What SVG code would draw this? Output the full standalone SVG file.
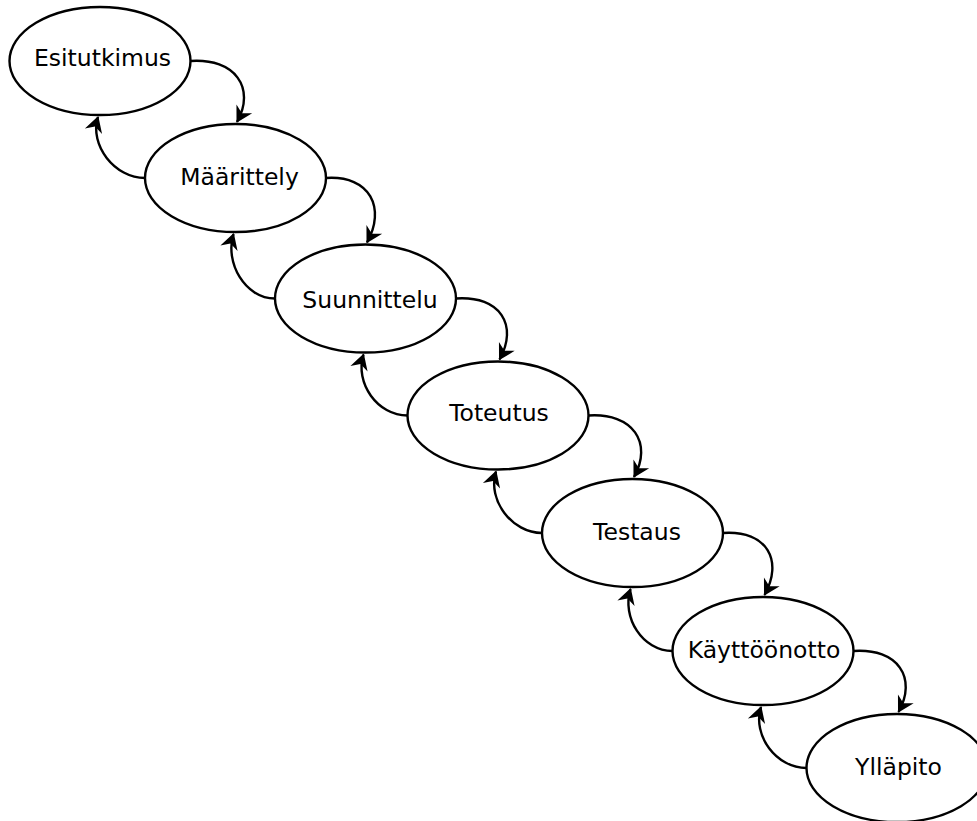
<svg xmlns="http://www.w3.org/2000/svg" width="977" height="821" viewBox="0 0 977 821">
  <style>
    .node ellipse { fill: #ffffff; stroke: #000000; stroke-width: 2.4; }
    .node text { font-family: "DejaVu Sans", Verdana, sans-serif; font-size: 23.5px; fill: #000000; text-anchor: middle; }
    .edge { fill: none; stroke: #000000; stroke-width: 2.4; marker-end: url(#arrow); }
  </style>
  <defs>
    <marker id="arrow" markerUnits="userSpaceOnUse" viewBox="-18 -11 22 22" refX="0" refY="0" markerWidth="22" markerHeight="22" orient="auto" overflow="visible">
      <path d="M1,0 L-15,-9 L-10,0 L-15,9 Z" fill="#000000"/>
    </marker>
  </defs>

  <rect x="0" y="0" width="977" height="821" fill="#ffffff"/>

  <g id="esitutkimus" class="node">
    <ellipse cx="100" cy="61" rx="90.5" ry="54"/>
    <text x="102.5" y="66">Esitutkimus</text>
  </g>
  <g id="maarittely" class="node">
    <ellipse cx="235.5" cy="178" rx="90.5" ry="54"/>
    <text x="239.5" y="185">Määrittely</text>
  </g>
  <g id="suunnittelu" class="node">
    <ellipse cx="365.5" cy="298.5" rx="90.5" ry="54"/>
    <text x="370" y="308">Suunnittelu</text>
  </g>
  <g id="toteutus" class="node">
    <ellipse cx="498" cy="415.5" rx="90.5" ry="54"/>
    <text x="499" y="421">Toteutus</text>
  </g>
  <g id="testaus" class="node">
    <ellipse cx="632.5" cy="533" rx="90.5" ry="54"/>
    <text x="637" y="540">Testaus</text>
  </g>
  <g id="kayttoonotto" class="node">
    <ellipse cx="763" cy="651" rx="90.5" ry="54"/>
    <text x="764" y="658">Käyttöönotto</text>
  </g>
  <g id="yllapito" class="node">
    <ellipse cx="897" cy="768" rx="90.5" ry="54"/>
    <text x="898.5" y="775">Ylläpito</text>
  </g>

  <g id="connectors">
    <!-- forward: right side of a phase to the top of the next one -->
    <path class="edge" d="M190.5,61 C235,58 256,88 237,122"/>
    <path class="edge" d="M326,178 C370.5,175 386,208.5 367,242.5"/>
    <path class="edge" d="M456,298.5 C500.5,295.5 518.5,325.5 499.5,359.5"/>
    <path class="edge" d="M588.5,415.5 C633,412.5 653,443 634,477"/>
    <path class="edge" d="M723,533 C767.5,530 783.5,561 764.5,595"/>
    <path class="edge" d="M853.5,651 C898,648 917.5,678 898.5,712"/>
    <!-- backward: left side of a phase to the bottom of the previous one -->
    <path class="edge" d="M145,178 C115,178 89,145.5 98,117"/>
    <path class="edge" d="M275,298.5 C245,298.5 224.5,262.5 233.5,234"/>
    <path class="edge" d="M407.5,415.5 C377.5,415.5 354.5,383 363.5,354.5"/>
    <path class="edge" d="M542,533 C512,533 487,500 496,471.5"/>
    <path class="edge" d="M672.5,651 C642.5,651 621.5,617.5 630.5,589"/>
    <path class="edge" d="M806.5,768 C776.5,768 752,735.5 761,707"/>
  </g>
</svg>
